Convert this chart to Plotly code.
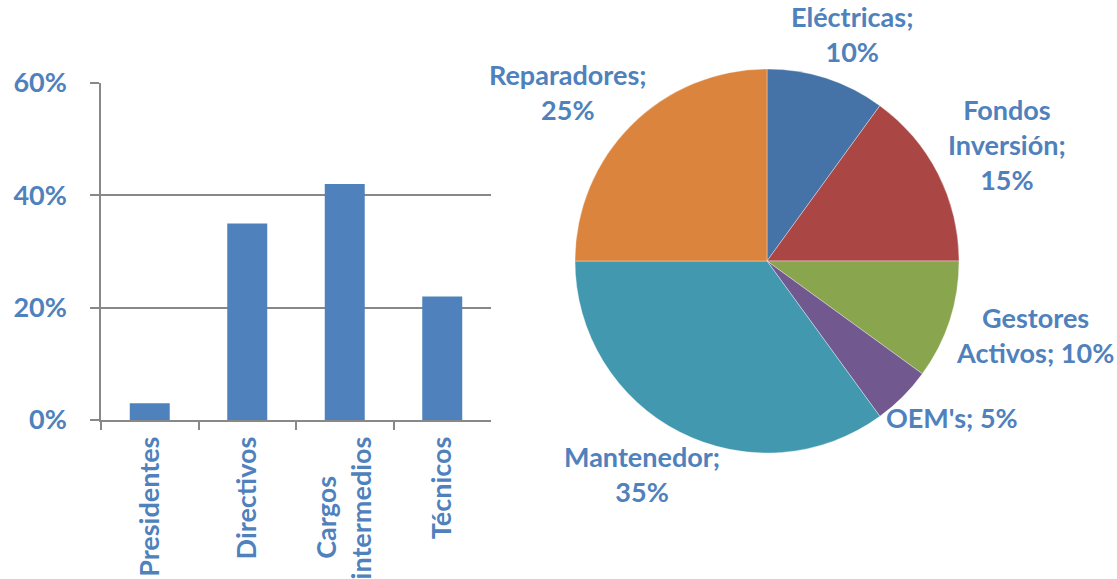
import math
import plotly.graph_objects as go

# ---------------- data ----------------
bar_categories = ["Presidentes", "Directivos", "Cargos&nbsp;&nbsp;&nbsp;&nbsp;&nbsp;&nbsp;<br>intermedios", "Técnicos"]
bar_values = [0.03, 0.35, 0.42, 0.22]
y_tick_values = [0, 0.2, 0.4, 0.6]
y_tick_labels = ["0%", "20%", "40%", "60%"]

pie_labels = ["Eléctricas", "Fondos Inversión", "Gestores Activos", "OEM's", "Mantenedor", "Reparadores"]
pie_values = [10, 15, 10, 5, 35, 25]
pie_label_texts = ["Eléctricas;<br>10%", "Fondos<br>Inversión;<br>15%", "Gestores<br>Activos; 10%",
                   "OEM's; 5%", "Mantenedor;<br>35%", "Reparadores;<br>25%"]

# ---------------- style ----------------
W, H = 1117, 579
FONT = "Lato"
FS = 27
TEXT_COLOR = "#4F81BD"
GRID = "#888888"
BAR_COLOR = "#4F81BD"
PIE_COLORS = ["#4572A7", "#AA4643", "#89A54E", "#71588F", "#4198AF", "#DB843D"]

# pie geometry (pixels)
PCX, PCY, PR = 767, 261, 192

fig = go.Figure()

fig.add_trace(go.Bar(
    x=bar_categories, y=bar_values,
    marker=dict(color=BAR_COLOR, line=dict(width=0)),
    xaxis="x", yaxis="y", showlegend=False, hoverinfo="skip",
))

fig.add_trace(go.Pie(
    labels=pie_labels, values=pie_values,
    sort=False, direction="clockwise", rotation=0,
    marker=dict(colors=PIE_COLORS, line=dict(color="rgba(255,255,255,0.6)", width=0.6)),
    textinfo="none", hoverinfo="skip", showlegend=False,
    domain=dict(x=[(PCX - PR) / W, (PCX + PR) / W],
                y=[(H - PCY - PR) / H, (H - PCY + PR) / H]),
))

# pie labels placed outside, derived from slice mid-angles
annotations = []
total = sum(pie_values)
cum = 0
gap = 12
for val, txt in zip(pie_values, pie_label_texts):
    mid = (cum + val / 2) / total * 2 * math.pi
    cum += val
    s, c = math.sin(mid), math.cos(mid)
    px = PCX + (PR + gap) * s
    py = PCY - (PR + gap) * c
    lines = txt.split("<br>")
    w = max(len(l) for l in lines) * 0.48 * FS
    h = len(lines) * FS * 1.3
    cx = px + s * w / 2
    cy = py - c * h / 2
    annotations.append(dict(
        x=cx / W, y=1 - cy / H, xref="paper", yref="paper",
        xanchor="center", yanchor="middle", text=txt, showarrow=False,
        align="center",
        font=dict(family=FONT, size=FS, color=TEXT_COLOR, weight="bold"),
    ))

fig.update_layout(
    width=W, height=H,
    margin=dict(l=0, r=0, t=0, b=0, autoexpand=False),
    paper_bgcolor="white", plot_bgcolor="white",
    font=dict(family=FONT, size=FS, color=TEXT_COLOR, weight="bold"),
    bargap=0.59,
    xaxis=dict(
        domain=[101 / W, 491 / W], anchor="y", automargin=False,
        showline=True, linecolor=GRID, linewidth=1.5,
        ticks="outside", tickson="boundaries", ticklen=8, tickwidth=1.5, tickcolor=GRID,
        tickangle=-90, showgrid=False,
        tickfont=dict(family=FONT, size=FS, color=TEXT_COLOR, weight="bold"),
        ticklabelstandoff=4,
    ),
    yaxis=dict(
        domain=[(H - 420) / H, (H - 83) / H], anchor="x", automargin=False,
        range=[0, 0.6], tickvals=y_tick_values, ticktext=y_tick_labels,
        showline=True, linecolor=GRID, linewidth=1.5,
        showgrid=True, gridcolor=GRID, gridwidth=1.5, zeroline=False,
        ticks="outside", ticklen=9, tickwidth=1.5, tickcolor=GRID,
        tickfont=dict(family=FONT, size=FS, color=TEXT_COLOR, weight="bold"),
        ticklabelstandoff=18,
    ),
    annotations=annotations,
)

fig.write_html("out.html", config={"displayModeBar": False},
               post_script="document.body.style.margin='0';document.body.style.padding='0';")
